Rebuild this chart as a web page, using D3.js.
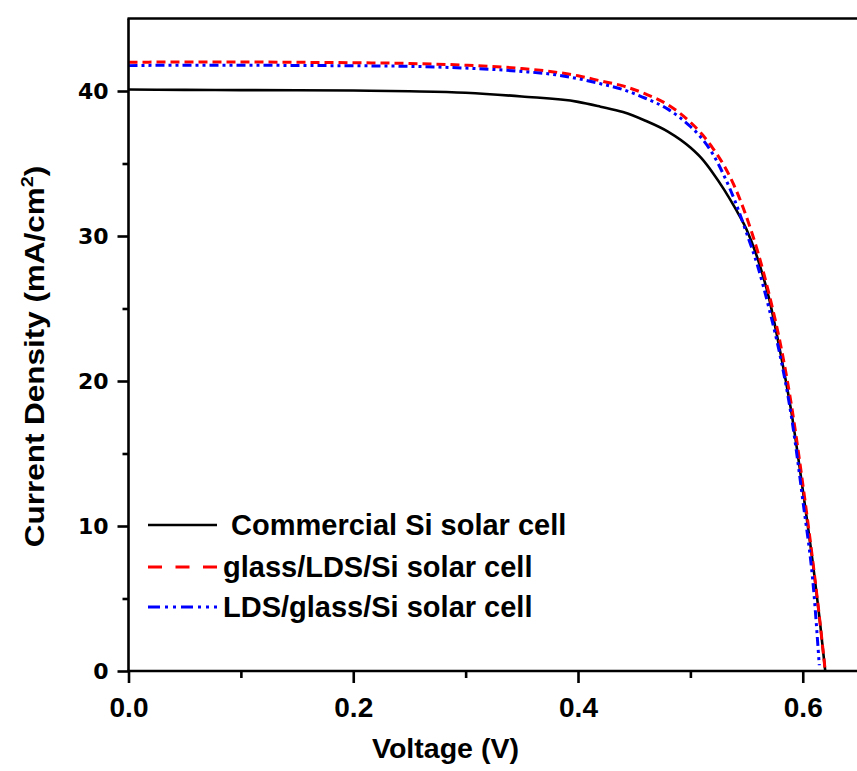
<!DOCTYPE html>
<html>
<head>
<meta charset="utf-8">
<script src="https://cdn.jsdelivr.net/npm/d3@7"></script>
<style>
  html, body { margin: 0; padding: 0; background: #ffffff; }
  svg { display: block; }
</style>
</head>
<body>
<svg id="chart" width="857" height="771"></svg>
<script>
// ---------------- data ----------------
const seriesNames = [" Commercial Si solar cell", "glass/LDS/Si solar cell", "LDS/glass/Si solar cell"];
const seriesColors = ["#000000", "#ff0000", "#0000ff"];

const commercialV = [0.00, 0.05, 0.10, 0.15, 0.20, 0.25, 0.30, 0.35, 0.40, 0.42, 0.44, 0.46, 0.48, 0.50, 0.51, 0.52, 0.53, 0.54, 0.55, 0.56, 0.57, 0.58, 0.59, 0.60, 0.61, 0.615, 0.620];
const commercialJ = [40.10, 40.08, 40.06, 40.05, 40.03, 39.98, 39.88, 39.62, 39.25, 38.92, 38.55, 37.95, 37.20, 36.10, 35.35, 34.35, 33.20, 31.90, 30.45, 28.40, 25.70, 22.00, 17.80, 12.50, 6.80, 3.60, 0.00];

const glassLdsV = [0.00, 0.05, 0.10, 0.15, 0.20, 0.25, 0.30, 0.35, 0.38, 0.40, 0.42, 0.44, 0.46, 0.48, 0.50, 0.51, 0.52, 0.53, 0.54, 0.55, 0.56, 0.57, 0.58, 0.59, 0.60, 0.61, 0.615, 0.620];
const glassLdsJ = [41.98, 42.00, 42.00, 41.98, 41.95, 41.90, 41.78, 41.55, 41.30, 41.05, 40.70, 40.35, 39.80, 39.05, 37.85, 37.05, 36.05, 34.85, 33.30, 31.30, 28.90, 26.00, 22.60, 18.30, 12.90, 6.90, 3.60, 0.00];

const ldsGlassV = [0.00, 0.05, 0.10, 0.15, 0.20, 0.25, 0.30, 0.35, 0.38, 0.40, 0.42, 0.44, 0.46, 0.48, 0.50, 0.51, 0.52, 0.53, 0.54, 0.55, 0.56, 0.57, 0.58, 0.59, 0.60, 0.61, 0.6147];
const ldsGlassJ = [41.75, 41.78, 41.78, 41.76, 41.74, 41.70, 41.58, 41.35, 41.12, 40.85, 40.50, 40.10, 39.50, 38.75, 37.55, 36.75, 35.65, 34.15, 32.35, 30.20, 27.90, 25.00, 21.70, 17.50, 11.80, 5.30, 0.40];

const xMajorTicks = [0.0, 0.2, 0.4, 0.6];
const xMinorTicks = [0.1, 0.3, 0.5];
const yMajorTicks = [0, 10, 20, 30, 40];
const yMinorTicks = [5, 15, 25, 35];
const xDomain = [0, 0.648];
const yDomain = [0, 45];
const xTitle = "Voltage (V)";
const yTitleMain = "Current Density (mA/cm";
const yTitleSup = "2";
const yTitleEnd = ")";

// ---------------- layout ----------------
const svg = d3.select("#chart");
const plotL = 128.5, plotR = 856.7, plotT = 18.5, plotB = 671;

const x = d3.scaleLinear().domain(xDomain).range([plotL, plotR]);
const y = d3.scaleLinear().domain(yDomain).range([plotB, plotT]);

svg.append("rect").attr("width", 857).attr("height", 771).attr("fill", "#ffffff");

svg.append("defs").append("clipPath").attr("id", "plotClip")
  .append("rect").attr("x", plotL).attr("y", plotT).attr("width", plotR - plotL).attr("height", plotB - plotT + 2);

// ---------------- curves ----------------
const series = [
  { V: commercialV, J: commercialJ, dash: null, width: 2.6 },
  { V: glassLdsV, J: glassLdsJ, dash: "9,5", width: 3 },
  { V: ldsGlassV, J: ldsGlassJ, dash: "9,4,3,4,3,4", width: 3 }
];
const line = d3.line().x(d => x(d[0])).y(d => y(d[1])).curve(d3.curveMonotoneX);

const curveG = svg.append("g").attr("clip-path", "url(#plotClip)");
series.forEach((s, i) => {
  const pts = s.V.map((v, k) => [v, s.J[k]]);
  curveG.append("path")
    .attr("d", line(pts))
    .attr("fill", "none")
    .attr("stroke", seriesColors[i])
    .attr("stroke-width", s.width)
    .attr("stroke-dasharray", s.dash)
    .attr("stroke-linejoin", "round");
});

// ---------------- axes ----------------
const axisColor = "#000";
const axisW = 2.6;

const xAxis = svg.append("g").attr("transform", `translate(0,${plotB})`)
  .call(d3.axisBottom(x).tickValues(xMajorTicks).tickFormat(d3.format(".1f")).tickSize(12).tickPadding(14).tickSizeOuter(0));
const xAxisMinor = svg.append("g").attr("transform", `translate(0,${plotB})`)
  .call(d3.axisBottom(x).tickValues(xMinorTicks).tickFormat("").tickSize(7).tickSizeOuter(0));
const yAxis = svg.append("g").attr("transform", `translate(${plotL},0)`)
  .call(d3.axisLeft(y).tickValues(yMajorTicks).tickFormat(d3.format("d")).tickSize(11).tickPadding(9).tickSizeOuter(0));
const yAxisMinor = svg.append("g").attr("transform", `translate(${plotL},0)`)
  .call(d3.axisLeft(y).tickValues(yMinorTicks).tickFormat("").tickSize(6).tickSizeOuter(0));

[xAxis, xAxisMinor, yAxis, yAxisMinor].forEach(g => {
  g.select(".domain").remove();
  g.selectAll(".tick line").attr("stroke", axisColor).attr("stroke-width", axisW);
});

xAxis.selectAll(".tick text")
  .attr("fill", "#000")
  .style("font-family", "'Liberation Sans', Arial, sans-serif")
  .style("font-weight", "bold")
  .style("font-size", "28px");

yAxis.selectAll(".tick text")
  .attr("fill", "#000")
  .style("font-family", "'DejaVu Sans', sans-serif")
  .style("font-weight", "bold")
  .style("font-size", "22px");

// frame lines (left, bottom, top)
svg.append("line").attr("x1", plotL).attr("x2", plotL).attr("y1", plotT).attr("y2", plotB + 1)
  .attr("stroke", axisColor).attr("stroke-width", axisW);
svg.append("line").attr("x1", plotL - 1).attr("x2", 857).attr("y1", plotB).attr("y2", plotB)
  .attr("stroke", axisColor).attr("stroke-width", axisW);
svg.append("line").attr("x1", plotL - 1).attr("x2", 857).attr("y1", plotT).attr("y2", plotT)
  .attr("stroke", axisColor).attr("stroke-width", axisW);

// ---------------- titles ----------------
svg.append("text")
  .attr("x", 372).attr("y", 757.5)
  .attr("textLength", 147).attr("lengthAdjust", "spacingAndGlyphs")
  .style("font-family", "'Liberation Sans', Arial, sans-serif")
  .style("font-weight", "bold").style("font-size", "27px")
  .attr("fill", "#000")
  .text(xTitle);

const yt = svg.append("text")
  .attr("transform", "translate(43.5,356.5) rotate(-90) scale(1.165,1)")
  .attr("text-anchor", "middle")
  .style("font-family", "'Liberation Sans', Arial, sans-serif")
  .style("font-weight", "bold").style("font-size", "27px")
  .attr("fill", "#000");
yt.append("tspan").text(yTitleMain);
yt.append("tspan").attr("dy", -11).style("font-size", "17px").text(yTitleSup);
yt.append("tspan").attr("dy", 11).text(yTitleEnd);

// ---------------- legend ----------------
const legendRows = [525, 567, 607];
const legendDash = [null, "14,13.5", "12,5,3,5,3,5"];
const legend = svg.append("g");
seriesNames.forEach((name, i) => {
  legend.append("line")
    .attr("x1", 148).attr("x2", 217)
    .attr("y1", legendRows[i]).attr("y2", legendRows[i])
    .attr("stroke", seriesColors[i])
    .attr("stroke-width", i === 0 ? 2.6 : 3)
    .attr("stroke-dasharray", legendDash[i]);
  legend.append("text")
    .attr("x", 223).attr("y", legendRows[i] + 10)
    .style("white-space", "pre")
    .style("font-family", "'Liberation Sans', Arial, sans-serif")
    .style("font-weight", "bold").style("font-size", "29px")
    .attr("fill", "#000")
    .text(name);
});
</script>
</body>
</html>
